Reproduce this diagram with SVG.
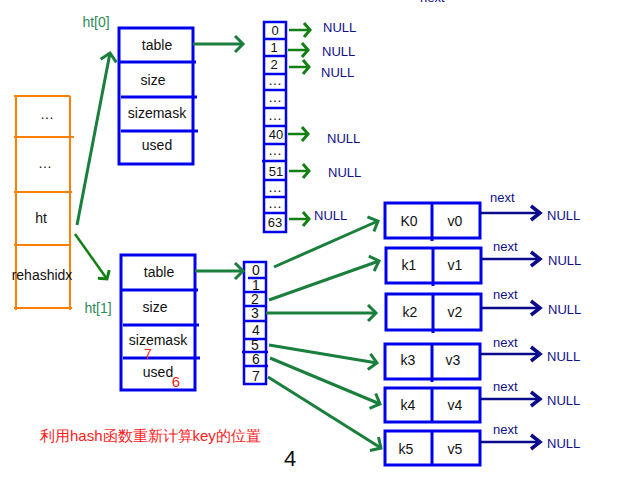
<svg xmlns="http://www.w3.org/2000/svg" width="640" height="480" viewBox="0 0 640 480">
<style>
.t{font-family:"Liberation Sans",Arial,sans-serif;font-size:14px;fill:#111;text-anchor:middle;dominant-baseline:central}
.s{font-size:13px}
.n{font-family:"Liberation Sans",Arial,sans-serif;font-size:13px;fill:#10108a;dominant-baseline:central}
.g{font-family:"Liberation Sans",Arial,sans-serif;font-size:14px;fill:#2e8b57;text-anchor:middle;dominant-baseline:central}
.bx{fill:#fff;stroke:#0000ee;stroke-width:3}
.bl{stroke:#0000ee;stroke-width:3}
.or{stroke:#ff8000;stroke-width:2;fill:none}
.ga{stroke:#1a7f3c;stroke-width:3;fill:none}
.gs{stroke:#128012;stroke-width:2.5;fill:none}
.na{stroke:#0a0a8c;stroke-width:2.5;fill:none}
.r{font-family:"Liberation Sans",Arial,sans-serif;fill:#ff1a1a}
</style>
<defs>
<marker id="mg" markerUnits="userSpaceOnUse" markerWidth="14" markerHeight="18" refX="10" refY="9" orient="auto" viewBox="0 0 14 18">
<path d="M2,1 L10,9 L2,17" fill="none" stroke="#1a7f3c" stroke-width="3"/>
</marker>
<marker id="ms" markerUnits="userSpaceOnUse" markerWidth="12" markerHeight="16" refX="9" refY="8" orient="auto" viewBox="0 0 12 16">
<path d="M3,1 L9,8 L3,15" fill="none" stroke="#128012" stroke-width="3"/>
</marker>
<marker id="mn" markerUnits="userSpaceOnUse" markerWidth="14" markerHeight="18" refX="11" refY="9" orient="auto" viewBox="0 0 14 18">
<path d="M2,2 L11,9 L2,16" fill="none" stroke="#0a0a8c" stroke-width="3.5"/>
</marker>
</defs>

<g id="dict">
<path class="or" d="M16,96 V310 M70,96 V310 M14,96 H70 M14,137 H74 M14,192 H72 M14,245 H70 M14,308 H72"/>
<text class="t" x="47" y="114">…</text>
<text class="t" x="45" y="163">…</text>
<text class="t" x="41" y="218">ht</text>
<text class="t" x="42" y="275">rehashidx</text>
</g>

<g id="ht0">
<rect class="bx" x="119" y="28" width="74" height="136"/>
<path class="bl" d="M119,62 H196 M121,97 H197 M121,131 H198"/>
<text class="t" x="157" y="45">table</text>
<text class="t" x="153" y="80">size</text>
<text class="t" x="157" y="113">sizemask</text>
<text class="t" x="157" y="145">used</text>
<text class="g" x="96" y="22">ht[0]</text>
</g>

<g id="ht1">
<rect class="bx" x="121" y="255" width="74" height="135"/>
<path class="bl" d="M121,290 H198 M123,325 H199 M123,358 H200"/>
<text class="t" x="159" y="272">table</text>
<text class="t" x="155" y="307">size</text>
<text class="t" x="158" y="340">sizemask</text>
<text class="t" x="158" y="372">used</text>
<text class="r" x="148" y="359" font-size="14" text-anchor="middle">7</text>
<text class="r" x="176" y="387" font-size="15" text-anchor="middle">6</text>
<text class="g" x="98" y="308">ht[1]</text>
</g>

<g id="table0">
<rect x="264" y="22" width="22" height="210" fill="#fff" stroke="#0000ee" stroke-width="2.5"/>
<path stroke="#0000ee" stroke-width="2.5" d="M264,39 H287 M264,56 H287 M264,74 H287 M264,90 H287 M264,108 H287 M264,126 H287 M264,144 H287 M262,161 H287 M264,180 H287 M264,197 H287 M264,213 H287"/>
<text class="t s" x="275" y="30">0</text>
<text class="t s" x="274" y="47">1</text>
<text class="t s" x="274" y="64">2</text>
<text class="t" x="275" y="80" font-size="10">…</text>
<text class="t" x="275" y="97" font-size="10">…</text>
<text class="t" x="275" y="115" font-size="10">…</text>
<text class="t s" x="276" y="134">40</text>
<text class="t" x="275" y="150" font-size="10">…</text>
<text class="t s" x="276" y="171">51</text>
<text class="t" x="275" y="187" font-size="10">…</text>
<text class="t" x="275" y="203" font-size="10">…</text>
<text class="t s" x="275" y="222">63</text>
</g>

<g id="table1">
<rect x="244" y="262" width="22" height="122" fill="#fff" stroke="#0000ee" stroke-width="2.5"/>
<path stroke="#0000ee" stroke-width="2.5" d="M248,278 H267 M244,292 H267 M244,306 H267 M244,321 H267 M244,339 H267 M242,352 H268 M244,366 H268"/>
<text class="t" x="256" y="270" font-size="14">0</text>
<text class="t" x="256" y="285" font-size="14">1</text>
<text class="t" x="255" y="299" font-size="14">2</text>
<text class="t" x="255" y="313" font-size="14">3</text>
<text class="t" x="256" y="330" font-size="14">4</text>
<text class="t" x="255" y="345" font-size="14">5</text>
<text class="t" x="256" y="359" font-size="14">6</text>
<text class="t" x="256" y="376" font-size="14">7</text>
</g>

<g id="nulls0">
<text class="n" x="323" y="27">NULL</text>
<text class="n" x="322" y="51">NULL</text>
<text class="n" x="321" y="72">NULL</text>
<text class="n" x="327" y="138">NULL</text>
<text class="n" x="328" y="172">NULL</text>
<text class="n" x="314" y="215">NULL</text>
</g>

<g id="e0"><rect class="bx" x="385" y="203" width="95" height="35"/><path class="bl" d="M432,203 V241"/><text class="t" x="409" y="221" font-size="12" fill="#333">K0</text><text class="t" x="455" y="221" font-size="12" fill="#333">v0</text></g>
<g id="e1"><rect class="bx" x="386" y="248" width="95" height="35"/><path class="bl" d="M433,248 V286"/><text class="t" x="409" y="265">k1</text><text class="t" x="455" y="265">v1</text></g>
<g id="e2"><rect class="bx" x="386" y="294" width="95" height="36"/><path class="bl" d="M433,294 V333"/><text class="t" x="410" y="312">k2</text><text class="t" x="455" y="312">v2</text></g>
<g id="e3"><rect class="bx" x="385" y="344" width="95" height="35"/><path class="bl" d="M432,344 V382"/><text class="t" x="408" y="360">k3</text><text class="t" x="453" y="360">v3</text></g>
<g id="e4"><rect class="bx" x="385" y="388" width="95" height="34"/><path class="bl" d="M432,388 V422"/><text class="t" x="408" y="405">k4</text><text class="t" x="455" y="405">v4</text></g>
<g id="e5"><rect class="bx" x="385" y="431" width="95" height="34"/><path class="bl" d="M432,431 V465"/><text class="t" x="406" y="449">k5</text><text class="t" x="455" y="449">v5</text></g>

<g id="nexts">
<text class="n" x="420" y="-3">next</text>
<text class="n" x="490" y="197">next</text>
<text class="n" x="547" y="215">NULL</text>
<text class="n" x="493" y="246">next</text>
<text class="n" x="548" y="260">NULL</text>
<text class="n" x="493" y="294">next</text>
<text class="n" x="548" y="309">NULL</text>
<text class="n" x="493" y="342">next</text>
<text class="n" x="547" y="356">NULL</text>
<text class="n" x="493" y="386">next</text>
<text class="n" x="547" y="400">NULL</text>
<text class="n" x="493" y="429">next</text>
<text class="n" x="547" y="443">NULL</text>
</g>

<g id="connectors">
<line class="ga" x1="77" y1="225" x2="110" y2="53" marker-end="url(#mg)"/>
<line class="gs" x1="75" y1="234" x2="107" y2="279" marker-end="url(#ms)"/>
<line class="ga" x1="193" y1="44" x2="243" y2="44" stroke-width="2.5" marker-end="url(#mg)"/>
<line class="ga" x1="195" y1="271" x2="243" y2="271" stroke-width="2.5" marker-end="url(#mg)"/>
<line class="gs" x1="289" y1="30" x2="310" y2="30" marker-end="url(#ms)"/>
<line class="gs" x1="288" y1="50" x2="308" y2="50" marker-end="url(#ms)"/>
<line class="gs" x1="289" y1="67" x2="309" y2="67" marker-end="url(#ms)"/>
<line class="gs" x1="288" y1="134" x2="308" y2="134" marker-end="url(#ms)"/>
<line class="gs" x1="289" y1="171" x2="309" y2="171" marker-end="url(#ms)"/>
<line class="gs" x1="289" y1="219" x2="309" y2="219" marker-end="url(#ms)"/>
<line class="ga" x1="274" y1="267" x2="378" y2="221" marker-end="url(#mg)"/>
<line class="ga" x1="269" y1="300" x2="379" y2="261" marker-end="url(#mg)"/>
<line class="ga" x1="266" y1="313" x2="376" y2="313" marker-end="url(#mg)"/>
<line class="ga" x1="269" y1="345" x2="377" y2="363" marker-end="url(#mg)"/>
<line class="ga" x1="270" y1="358" x2="380" y2="404" marker-end="url(#mg)"/>
<line class="ga" x1="268" y1="377" x2="381" y2="448" marker-end="url(#mg)"/>
<line class="na" x1="480" y1="213" x2="540" y2="213" marker-end="url(#mn)"/>
<line class="na" x1="481" y1="259" x2="540" y2="259" marker-end="url(#mn)"/>
<line class="na" x1="481" y1="308" x2="540" y2="308" marker-end="url(#mn)"/>
<line class="na" x1="480" y1="354" x2="540" y2="354" marker-end="url(#mn)"/>
<line class="na" x1="480" y1="399" x2="540" y2="399" marker-end="url(#mn)"/>
<line class="na" x1="480" y1="442" x2="540" y2="442" marker-end="url(#mn)"/>
</g>

<text class="r" x="40" y="441" font-size="15" font-family="'Liberation Sans','Noto Sans CJK SC',sans-serif">利用hash函数重新计算key的位置</text>
<text x="290" y="466" font-family="'Liberation Sans',Arial,sans-serif" font-size="22" fill="#111" text-anchor="middle">4</text>
</svg>
